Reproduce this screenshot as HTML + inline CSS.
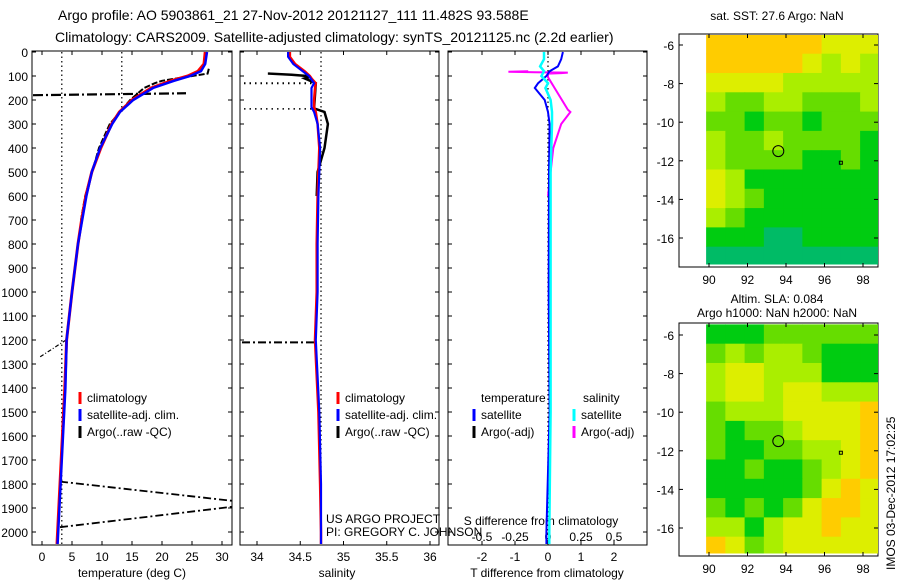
<!DOCTYPE html>
<html><head><meta charset="utf-8">
<style>
body{margin:0;background:#fff;}
svg{display:block;font-family:"Liberation Sans",sans-serif;}
text{fill:#000;}
</style></head>
<body>
<svg id="fig" width="900" height="580" viewBox="0 0 900 580" xmlns="http://www.w3.org/2000/svg">
<rect width="900" height="580" fill="#fff"/>
<text x="58" y="20" font-size="14">Argo profile: AO 5903861_21 27-Nov-2012 20121127_111 11.482S 93.588E</text>
<text x="55" y="42" font-size="14">Climatology: CARS2009. Satellite-adjusted climatology: synTS_20121125.nc (2.2d earlier)</text>
<g id="g"></g>
</svg>
<script>
// ---- data ----
const tempPres = [0,50,80,100,120,150,200,250,300,400,500,600,700,800,1000,1200,1400,1600,1800,2000,2050];
const tempSat  = [27.5,27.2,26.5,24.7,22,18.5,15.2,13,11.7,9.7,8.3,7.4,6.7,6.0,5.0,4.1,3.9,3.5,3.1,2.7,2.6];
const tempClim = [27.2,27.0,26.0,24.3,21.5,18.2,15.0,12.9,11.6,9.8,8.3,7.3,6.6,6.0,5.0,4.1,3.8,3.4,3.0,2.6,2.5];
const argoTempPres = [70,90,100,110,120,130,150,200,300,400,600,700];
const argoTemp     = [27.8,27.6,25,22.5,20,18.8,17,14.7,11.3,9.5,7.2,6.5];
const salPres = [0,20,50,80,100,110,130,150,200,230,250,300,400,500,600,800,1000,1200,1500,1800,2000,2050];
const salSat  = [34.36,34.36,34.42,34.53,34.6,34.62,34.66,34.63,34.63,34.63,34.66,34.7,34.73,34.72,34.71,34.7,34.7,34.68,34.72,34.74,34.74,34.74];
const salClim = [34.38,34.38,34.44,34.55,34.61,34.63,34.68,34.67,34.66,34.66,34.68,34.7,34.72,34.71,34.7,34.69,34.69,34.67,34.71,34.73,34.74,34.74];
const argoSalPres = [85,90,95,100,105,110,130,235,250,300,400,500,600];
const argoSal     = [34.14,34.14,34.4,34.58,34.6,34.55,34.68,34.66,34.78,34.82,34.78,34.7,34.69];
const diffPres = [0,30,60,80,100,130,150,200,250,300,500,1000,1500,2000,2050];
const tDiffSat = [0.45,0.4,0.3,0.05,-0.05,-0.3,-0.4,-0.1,0.0,0.05,0.03,0.02,0.05,-0.05,-0.05];
const sDiffSat = [-0.03,-0.03,-0.06,-0.03,-0.05,0.0,-0.02,0.02,0.03,0.03,0.02,0.02,0.02,0.01,0.01];
const sDiffArgoPres = [80,82,84,86,88,90,95,100,105,240,250,300,400,500,600];
const sDiffArgo     = [-0.15,-0.3,-0.1,0.15,0.1,0.0,0.0,0.0,0.0,0.15,0.17,0.1,0.04,0.02,0.0];
const presTicks = [0,100,200,300,400,500,600,700,800,900,1000,1100,1200,1300,1400,1500,1600,1700,1800,1900,2000];
const tempTicks = [0,5,10,15,20,25,30];
const salTicks = [34,34.5,35,35.5,36];
const salTickLabels = ["34","34.5","35","35.5","36"];
const tdTicks = [-2,-1,0,1,2];
const sdTicks = [-0.5,-0.25,0,0.25,0.5];
const lonTicks = [90,92,94,96,98];
const latTicks = [-6,-8,-10,-12,-14,-16];
const sstGrid = [
"555555444","555554343","444433333","322332223","221221222","322322221",
"322221121","431111111","432111111","321111111","111001111","000000000"];
const slaGrid = [
"111222222","232332111","344333111","344344333","233344445","212234445",
"211223345","112112345","111112454","212124554","331344544","542344444"];
// ---- helpers ----
const NS="http://www.w3.org/2000/svg";
const G=document.getElementById('g');
function mk(tag,attrs,parent){const e=document.createElementNS(NS,tag);for(const k in attrs)e.setAttribute(k,attrs[k]);(parent||G).appendChild(e);return e;}
const py = p => 52 + p*0.24;
const tx = t => 42 + t*6;
const sx = s => 257 + (s-34)*86.5;
const dx = d => 548 + d*33;
const sdx = d => 548 + d*132;
const lonX = l => 709 + (l-90)*19.25;
const latYTop = l => 45 + (-6 - l)*19.3;
const latYBot = l => 335 + (-6 - l)*19.3;
function poly(xs,ps,fx,color,w,name,dash){
  const pts=xs.map((v,i)=>fx(v).toFixed(1)+","+py(ps[i]).toFixed(1)).join(" ");
  const e=mk('polyline',{points:pts,fill:'none',stroke:color,'stroke-width':w});
  if(dash)e.setAttribute('stroke-dasharray',dash);
  
  
}
function txt(x,y,s,size,anchor,name){const e=mk('text',{x:x,y:y,'font-size':size,'text-anchor':anchor||'start'});e.textContent=s;
  
  
  return e;}
function line(x1,y1,x2,y2,color,w,dash,name){const e=mk('line',{x1:x1,y1:y1,x2:x2,y2:y2,stroke:color,'stroke-width':w});if(dash)e.setAttribute('stroke-dasharray',dash);
  
  }
// ---- panel frames ----
const panels=[[32,232],[240,439],[448,647]];
const bottomY=545;
panels.forEach((p,i)=>{
  const r=mk('rect',{x:p[0],y:51,width:p[1]-p[0],height:bottomY-51,fill:'#fff',stroke:'#000','stroke-width':1});
  
  
  presTicks.forEach(t=>{line(p[0],py(t),p[0]+4,py(t),'#000',1,null,'y-tick');line(p[1]-4,py(t),p[1],py(t),'#000',1,null,'y-tick');});
});
presTicks.forEach(t=>txt(28,py(t)+5,String(t),12,'end','y-tick-label'));
tempTicks.forEach(t=>{line(tx(t),51,tx(t),55,'#000',1,null,'x-tick');line(tx(t),bottomY-4,tx(t),bottomY,'#000',1,null,'x-tick');txt(tx(t),561,String(t),12,'middle','temp-tick-label');});
salTicks.forEach((t,i)=>{line(sx(t),51,sx(t),55,'#000',1,null,'x-tick');line(sx(t),bottomY-4,sx(t),bottomY,'#000',1,null,'x-tick');txt(sx(t),561,salTickLabels[i],12,'middle','sal-tick-label');});
tdTicks.forEach(t=>{line(dx(t),51,dx(t),55,'#000',1,null,'x-tick');line(dx(t),bottomY-4,dx(t),bottomY,'#000',1,null,'x-tick');txt(dx(t),561,String(t),12,'middle','tdiff-tick-label');});
sdTicks.forEach(t=>txt(sdx(t),541,String(t),12,'middle','sdiff-tick-label'));
txt(132,577,'temperature (deg C)',12,'middle','x-axis-title-temp');
txt(337,577,'salinity',12,'middle','x-axis-title-sal');
txt(547,577,'T difference from climatology',12,'middle','x-axis-title-tdiff');
txt(541,525,'S difference from climatology',12,'middle','x-axis-title-sdiff');
// ---- reference dotted lines ----
line(tx(3.3),52,tx(3.3),bottomY,'#000',1.2,'1.5,3','temp-ref-dotted');
line(tx(13.3),52,tx(13.3),py(250),'#000',1.2,'1.5,3','temp-ref-dotted-upper');
line(sx(34.74),52,sx(34.74),bottomY,'#000',1.2,'1.5,3','sal-ref-dotted');
line(dx(0),52,dx(0),bottomY,'#000',1.2,'1.5,3','diff-zero-dotted');
line(244,py(130),315,py(130),'#000',2,'1.5,4','sal-bad-dotted');
line(244,py(237),315,py(237),'#000',1.5,'1.5,4','sal-bad-dotted');
// ---- argo temp raw artifacts ----
line(tx(-1.5),py(180),tx(24),py(172),'#000',2.2,'10,3,2,3','argo-temp-spike');
line(tx(-0.3),py(1270),tx(4),py(1200),'#000',1.2,'4,2,1,2','argo-temp-spike');
line(tx(3),py(1790),232,py(1870),'#000',1.8,'8,3,2,3','argo-temp-spike');
line(tx(3),py(1980),232,py(1895),'#000',1.8,'8,3,2,3','argo-temp-spike');
line(242,py(1210),sx(34.68),py(1210),'#000',2,'8,3,2,3','argo-sal-spike');
// ---- profiles ----
poly(argoTemp,argoTempPres,tx,'#000',2,'argo-temp-line','6,2');
poly(tempClim,tempPres,tx,'#f00',3,'temp-climatology-line');
poly(tempSat,tempPres,tx,'#00f',2.5,'temp-satellite-line');
poly(argoSal,argoSalPres,sx,'#000',2.5,'argo-sal-line');
poly(salClim,salPres,sx,'#f00',2.5,'sal-climatology-line');
poly(salSat,salPres,sx,'#00f',2.2,'sal-satellite-line');
poly(sDiffArgo,sDiffArgoPres,sdx,'#f0f',2,'sdiff-argo-line');
poly(tDiffSat,diffPres,dx,'#00f',2,'tdiff-satellite-line');
poly(sDiffSat,diffPres,sdx,'#0ff',2.5,'sdiff-satellite-line');
// ---- legends ----
function leg(x,y,color,label,name){line(x,y-10,x,y+2,color,3,null,name+'-swatch');txt(x+7,y,label,12,'start',name);}
leg(80,402,'#f00','climatology','legend-temp-climatology');
leg(80,419,'#00f','satellite-adj. clim.','legend-temp-satellite');
leg(80,436,'#000','Argo(..raw -QC)','legend-temp-argo');
leg(338,402,'#f00','climatology','legend-sal-climatology');
leg(338,419,'#00f','satellite-adj. clim.','legend-sal-satellite');
leg(338,436,'#000','Argo(..raw -QC)','legend-sal-argo');
txt(481,402,'temperature',12,'start','legend-temp-header');
txt(583,402,'salinity',12,'start','legend-sal-header');
leg(474,419,'#00f','satellite','legend-tdiff-satellite');
leg(474,436,'#000','Argo(-adj)','legend-tdiff-argo');
leg(574,419,'#0ff','satellite','legend-sdiff-satellite');
leg(574,436,'#f0f','Argo(-adj)','legend-sdiff-argo');
txt(326,523,'US ARGO PROJECT',12,'start','project-label');
txt(326,536,'PI: GREGORY C. JOHNSON',12,'start','pi-label');
// ---- maps ----
const cols=['#00bb66','#00cc11','#66dd00','#aaee00','#ddee00','#ffcc00'];
function drawMap(grid,top,latY,name){
  const fr=mk('rect',{x:679,y:top,width:199,height:233,fill:'#fff',stroke:'#000','stroke-width':1});
  
  
  grid.forEach((row,r)=>{[...row].forEach((c,k)=>{
    const x0=lonX(89.85+k), x1=Math.min(lonX(90.85+k),877.5);
    const y0=Math.max(latY(-5.45-r),top+1), y1=Math.min(latY(-6.45-r),top+230);
    const e=mk('rect',{x:x0,y:y0,width:x1-x0+0.5,height:y1-y0+0.5,fill:cols[+c]});
    
    
  });});
  lonTicks.forEach(l=>{line(lonX(l),top,lonX(l),top+4,'#000',1,null,'map-tick');line(lonX(l),top+233-4,lonX(l),top+233,'#000',1,null,'map-tick');txt(lonX(l),top+250,String(l),12,'middle','map-lon-label');});
  latTicks.forEach(l=>{line(679,latY(l),683,latY(l),'#000',1,null,'map-tick');line(874,latY(l),878,latY(l),'#000',1,null,'map-tick');txt(674,latY(l)+5,String(l),12,'end','map-lat-label');});
  const c=mk('circle',{cx:lonX(93.6),cy:latY(-11.5),r:5.5,fill:'none',stroke:'#000','stroke-width':1});
  
  
  const s=mk('rect',{x:lonX(96.85)-1.5,y:latY(-12.1)-1.5,width:3,height:3,fill:'none',stroke:'#000','stroke-width':1});
  
  
}
drawMap(sstGrid,34,latYTop,'sst-map');
drawMap(slaGrid,323,latYBot,'sla-map');
txt(777,20,'sat. SST: 27.6 Argo: NaN',12,'middle','sst-map-title');
txt(777,303,'Altim. SLA: 0.084',12,'middle','sla-map-title');
txt(777,317,'Argo h1000: NaN h2000: NaN',12,'middle','sla-map-subtitle');
const v=txt(0,0,'IMOS 03-Dec-2012 17:02:25',12,'start','timestamp');
v.setAttribute('transform','translate(895,570) rotate(-90)');
</script>
</body></html>
